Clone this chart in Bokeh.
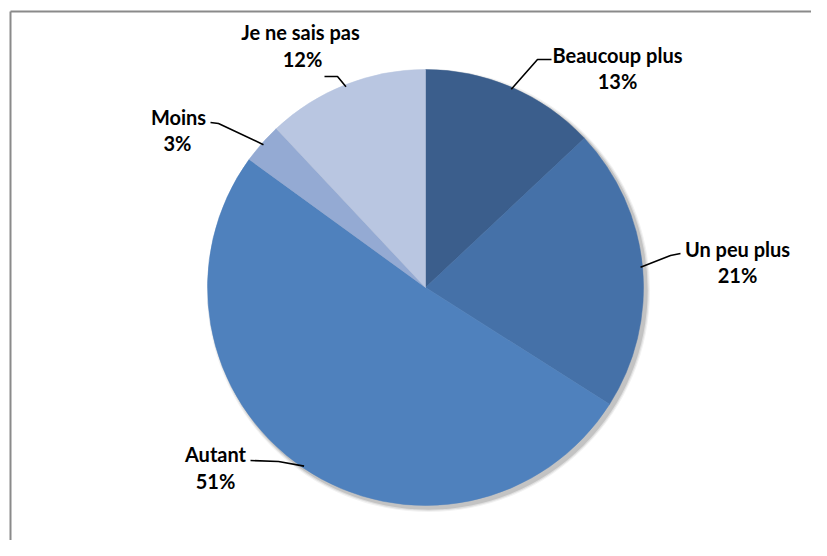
import math
from bokeh.plotting import figure
from bokeh.models import Range1d, ColumnDataSource
from bokeh.core.properties import value
from bokeh.embed import file_html
from bokeh.resources import INLINE

# ---- data ----
categories = ["Beaucoup plus", "Un peu plus", "Autant", "Moins", "Je ne sais pas"]
percents = [13, 21, 51, 3, 12]
colors = ["#3B5E8C", "#4571A8", "#4F81BD", "#94AAD3", "#B9C6E1"]

# ---- layout (reference px -> data: x = px, y = H - py) ----
W, H = 811, 540
def P(px, py):
    return px, H - py

cx, cy = P(425, 287)
R = 218

# label centre x / middle y (reference px) for name line, then percent line
label_pos = {
    "Beaucoup plus": (617, 54, 617, 80),
    "Un peu plus": (737, 248, 737, 274),
    "Autant": (215, 453, 215, 480),
    "Moins": (178, 116, 177, 142),
    "Je ne sais pas": (300, 31, 302, 58),
}
# leader line elbows (reference px): text-side end, elbow
leaders = {
    "Beaucoup plus": [(551, 59), (537, 59)],
    "Un peu plus": [(680, 253), (670, 255)],
    "Autant": [(250, 460), (278, 461)],
    "Moins": [(210, 122), (218, 123)],
    "Je ne sais pas": [(324, 76), (337, 76)],
}

p = figure(width=W, height=H, x_range=Range1d(0, W), y_range=Range1d(0, H),
           output_backend="svg", toolbar_location=None, min_border=0)
p.axis.visible = False
p.grid.visible = False
p.outline_line_color = None
p.background_fill_color = "white"

# frame (left and top edges visible)
fx, fy = P(10, 11)
p.line([fx, fx], [0, fy], line_color="#8A8A8A", line_width=2)
p.line([fx, W], [fy, fy], line_color="#8A8A8A", line_width=2)

# soft shadow
for k, a in [(6, 0.05), (4, 0.08), (2, 0.12)]:
    p.circle(x=[cx + 3], y=[cy - 3], radius=R + k * 0.6, fill_color="#000000",
             fill_alpha=a, line_color=None)

# wedges, clockwise from top
starts, ends = [], []
ang = 90.0
for v in percents:
    sweep = v / sum(percents) * 360.0
    starts.append(math.radians(ang))
    ends.append(math.radians(ang - sweep))
    ang -= sweep
src = ColumnDataSource(dict(start=starts, end=ends, color=colors))
p.wedge(x=cx, y=cy, radius=R, start_angle="start", end_angle="end",
        direction="clock", fill_color="color", line_color="color", line_width=0.5,
        source=src)

# leader lines and labels
for i, name in enumerate(categories):
    mid = (starts[i] + ends[i]) / 2
    ex, ey = cx + (R - 2) * math.cos(mid), cy + (R - 2) * math.sin(mid)
    pts = [P(*q) for q in leaders[name]] + [(ex, ey)]
    p.line([q[0] for q in pts], [q[1] for q in pts], line_color="black", line_width=1.6)
    nx, ny, qx, qy = label_pos[name]
    lx, ly = P(nx, ny)
    px2, py2 = P(qx, qy)
    p.text(x=[lx], y=[ly], text=[name], text_font=value("Lato"), text_font_style="bold",
           text_font_size="20px", text_align="center", text_baseline="middle",
           text_color="black")
    p.text(x=[px2], y=[py2], text=[f"{percents[i]}%"], text_font=value("Lato"),
           text_font_style="bold", text_font_size="20px", text_align="center",
           text_baseline="middle", text_color="black")

open("out.html", "w").write(file_html(p, INLINE))
